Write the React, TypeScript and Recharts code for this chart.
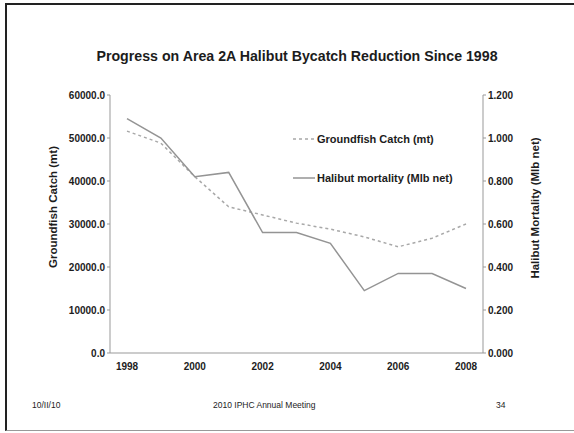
import { LineChart, Line, XAxis, YAxis } from 'recharts';

const years = ['1998', '1999', '2000', '2001', '2002', '2003', '2004', '2005', '2006', '2007', '2008'];
const groundfishCatch = [51600, 48800, 41000, 34000, 32100, 30200, 28800, 27000, 24700, 26700, 30000];
const halibutMortality = [1.09, 1.0, 0.82, 0.84, 0.56, 0.56, 0.51, 0.29, 0.37, 0.37, 0.3];

const leftTicks = [0, 10000, 20000, 30000, 40000, 50000, 60000];
const rightTicks = [0, 0.2, 0.4, 0.6, 0.8, 1.0, 1.2];

const chartData = years.map((year, idx) => ({
    year,
    catch: groundfishCatch[idx],
    mortality: halibutMortality[idx],
}));

const FONT = 'Arial, "Liberation Sans", sans-serif';
const DASH_COLOR = '#a8a8a8';
const SOLID_COLOR = '#949494';
const TEXT = '#1c1c1c';
const TICK = { fill: TEXT, fontSize: 10, fontWeight: 'bold', fontFamily: FONT };

function LegendBox() {
    const row = (label: string, color: string, dash?: string) => (
        <div style={{ display: 'flex', alignItems: 'center', height: 20 }}>
            <svg width={22} height={6} style={{ marginRight: 2 }}>
                <line x1={0} y1={3} x2={22} y2={3} stroke={color} strokeWidth={1.5} strokeDasharray={dash} />
            </svg>
            <span>{label}</span>
        </div>
    );
    return (
        <div style={{ position: 'absolute', left: 293, top: 129, fontFamily: FONT, fontSize: 11, fontWeight: 'bold', color: TEXT, lineHeight: '20px' }}>
            {row('Groundfish Catch (mt)', DASH_COLOR, '3 3')}
            <div style={{ height: 19 }} />
            {row('Halibut mortality (Mlb net)', SOLID_COLOR)}
        </div>
    );
}

export default function App() {
    return (
        <div style={{ position: 'absolute', left: 0, top: 0, width: 574, height: 433, background: '#fff', overflow: 'hidden', fontFamily: FONT }}>
            {/* slide frame */}
            <div style={{ position: 'absolute', left: 5, top: 3, width: 580, height: 425, borderTop: '2px solid #222', borderLeft: '2px solid #222', borderBottom: '1px solid #999' }} />
            <div style={{ position: 'absolute', left: 0, top: 48, width: 594, textAlign: 'center', fontSize: 14.2, fontWeight: 'bold', color: TEXT }}>
                Progress on Area 2A Halibut Bycatch Reduction Since 1998
            </div>
            <div style={{ position: 'absolute', left: 0, top: 0 }}>
                <LineChart width={574} height={433} data={chartData} margin={{ top: 95, right: 31, bottom: 50, left: 50 }}>
                    <XAxis
                        dataKey="year"
                        interval={1}
                        stroke="#999"
                        tickLine={false}
                        padding={{ left: 17, right: 17 }}
                        tick={TICK}
                        dy={2}
                        height={30}
                    />
                    <YAxis
                        yAxisId="left"
                        domain={[0, 60000]}
                        ticks={leftTicks}
                        tickFormatter={(v: number) => v.toFixed(1)}
                        stroke="#999"
                        tickSize={3}
                        width={60}
                        tick={TICK}
                    />
                    <YAxis
                        yAxisId="right"
                        orientation="right"
                        domain={[0, 1.2]}
                        ticks={rightTicks}
                        tickFormatter={(v: number) => v.toFixed(3)}
                        stroke="#999"
                        tickSize={3}
                        width={60}
                        tick={TICK}
                    />
                    <Line
                        yAxisId="left"
                        type="linear"
                        dataKey="catch"
                        name="Groundfish Catch (mt)"
                        stroke={DASH_COLOR}
                        strokeWidth={1.5}
                        strokeDasharray="3 3"
                        dot={false}
                        isAnimationActive={false}
                    />
                    <Line
                        yAxisId="right"
                        type="linear"
                        dataKey="mortality"
                        name="Halibut mortality (Mlb net)"
                        stroke={SOLID_COLOR}
                        strokeWidth={1.5}
                        dot={false}
                        isAnimationActive={false}
                    />
                </LineChart>
            </div>
            <LegendBox />
            <div style={{ position: 'absolute', left: 53, top: 207, transform: 'translate(-50%, -50%) rotate(-90deg)', whiteSpace: 'nowrap', fontSize: 11.5, fontWeight: 'bold', color: TEXT }}>
                Groundfish Catch (mt)
            </div>
            <div style={{ position: 'absolute', left: 535, top: 208, transform: 'translate(-50%, -50%) rotate(-90deg)', whiteSpace: 'nowrap', fontSize: 11.5, fontWeight: 'bold', color: TEXT }}>
                Halibut Mortality (Mlb net)
            </div>
            <div style={{ position: 'absolute', left: 32, top: 400, fontSize: 8.5, color: TEXT }}>10/II/10</div>
            <div style={{ position: 'absolute', left: 213, top: 400, fontSize: 8.5, color: TEXT }}>2010 IPHC Annual Meeting</div>
            <div style={{ position: 'absolute', left: 496, top: 400, fontSize: 8.5, color: TEXT }}>34</div>
        </div>
    );
}
